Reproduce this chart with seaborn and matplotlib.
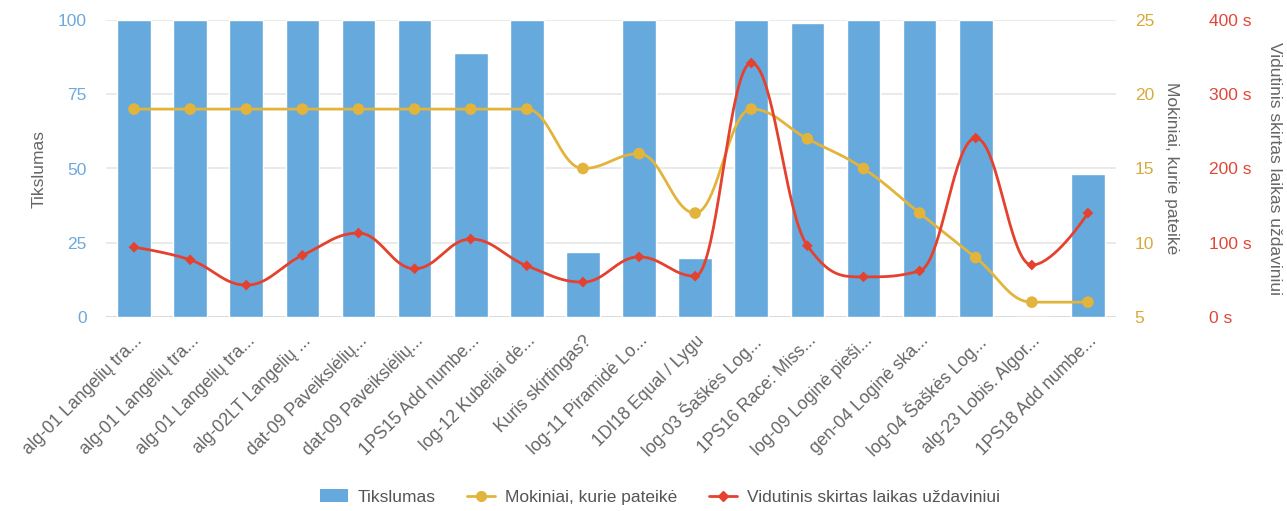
import numpy as np
import matplotlib
matplotlib.use("Agg")
import matplotlib.pyplot as plt
from matplotlib.lines import Line2D
from matplotlib.patches import Patch
import seaborn as sns
import pandas as pd

# ---- data ----
tasks = [
    "alg-01 Langelių tra...", "alg-01 Langelių tra...", "alg-01 Langelių tra...",
    "alg-02LT Langelių ...", "dat-09 Paveikslėlių...", "dat-09 Paveikslėlių...",
    "1PS15 Add numbe...", "log-12 Kubeliai dė...", "Kuris skirtingas?",
    "log-11 Piramidė Lo...", "1DI18 Equal / Lygu", "log-03 Šaškės Log...",
    "1PS16 Race: Miss...", "log-09 Loginė pieši...", "gen-04 Loginė ska...",
    "log-04 Šaškės Log...", "alg-23 Lobis. Algor...", "1PS18 Add numbe...",
]
accuracy = [100, 100, 100, 100, 100, 100, 89, 100, 22, 100, 20, 100, 99, 100, 100, 100, 0, 48]
students = [19, 19, 19, 19, 19, 19, 19, 19, 15, 16, 12, 19, 17, 15, 12, 9, 6, 6]
avg_time = [94, 77, 43, 83, 113, 65, 105, 69, 47, 81, 55, 342, 96, 54, 62, 241, 70, 140]

acc_ticks = [0, 25, 50, 75, 100]
stu_ticks = [5, 10, 15, 20, 25]
time_ticks = [0, 100, 200, 300, 400]

BLUE = "#66a9dd"
YELLOW = "#e3b43c"
RED = "#e5412f"
GREY = "#666666"


def spline_path(y, smoothing=1.5, per_seg=40):
    """Smooth curve through (i, y[i]) using cubic Bezier control points."""
    x = np.arange(len(y), dtype=float)
    y = np.asarray(y, dtype=float)
    n = len(y)
    lcx, lcy = x.copy(), y.copy()
    rcx, rcy = x.copy(), y.copy()
    denom = smoothing + 1
    for i in range(1, n - 1):
        px, py = x[i], y[i]
        lx, ly = x[i - 1], y[i - 1]
        nx, ny = x[i + 1], y[i + 1]
        lX = (smoothing * px + lx) / denom
        lY = (smoothing * py + ly) / denom
        rX = (smoothing * px + nx) / denom
        rY = (smoothing * py + ny) / denom
        corr = 0.0
        if rX != lX:
            corr = (rY - lY) * (rX - px) / (rX - lX) + py - rY
        lY += corr
        rY += corr
        if lY > ly and lY > py:
            lY = max(ly, py)
            rY = 2 * py - lY
        elif lY < ly and lY < py:
            lY = min(ly, py)
            rY = 2 * py - lY
        if rY > ny and rY > py:
            rY = max(ny, py)
            lY = 2 * py - rY
        elif rY < ny and rY < py:
            rY = min(ny, py)
            lY = 2 * py - rY
        lcx[i], lcy[i], rcx[i], rcy[i] = lX, lY, rX, rY
    t = np.linspace(0, 1, per_seg)[:, None]
    xs, ys = [], []
    for i in range(1, n):
        P0 = np.array([x[i - 1], y[i - 1]])
        P1 = np.array([rcx[i - 1], rcy[i - 1]])
        P2 = np.array([lcx[i], lcy[i]])
        P3 = np.array([x[i], y[i]])
        B = ((1 - t) ** 3) * P0 + 3 * ((1 - t) ** 2) * t * P1 + 3 * (1 - t) * t ** 2 * P2 + t ** 3 * P3
        xs.append(B[:, 0])
        ys.append(B[:, 1])
    return np.concatenate(xs), np.concatenate(ys)


sns.set_theme(style="white")
plt.rcParams["font.family"] = ["Liberation Sans", "DejaVu Sans"]

fig = plt.figure(figsize=(12.87, 5.11), dpi=100)
ax = fig.add_axes([106 / 1287, 1 - 317 / 511, (1116 - 106) / 1287, (317 - 20) / 511])

df = pd.DataFrame({"task": range(len(tasks)), "accuracy": accuracy,
                   "students": students, "avg_time": avg_time})

sns.barplot(data=df, x="task", y="accuracy", color=BLUE, saturation=1,
            width=0.6, ax=ax, zorder=2)
ax.set_ylim(0, 100)
ax.set_xlim(-0.5, len(tasks) - 0.5)
ax.set_yticks(acc_ticks)
ax.set_yticklabels([str(v) for v in acc_ticks], color="#6fa8dc", fontsize=12.5)
ax.set_xticks(range(len(tasks)))
ax.set_xticklabels(tasks, rotation=45, ha="right", rotation_mode="anchor",
                   color=GREY, fontsize=12.7)
ax.tick_params(axis="x", length=0, pad=11)
ax.tick_params(axis="y", length=0, pad=14)
ax.set_xlabel("")
ax.set_ylabel("Tikslumas", color=GREY, fontsize=12.5, labelpad=8)
for v in acc_ticks:
    ax.axhline(v, color="#e6e6e6", lw=1.2, zorder=0)
for s in ax.spines.values():
    s.set_visible(False)
ax.axhline(0, color="#d8d8d8", lw=1.2, zorder=1)

# students axis
ax2 = ax.twinx()
ax2.set_ylim(5, 25)
ax2.set_yticks(stu_ticks)
ax2.set_yticklabels([str(v) for v in stu_ticks], color="#d6ab3c", fontsize=12.5)
ax2.tick_params(axis="y", length=0, pad=13.5)
ax2.set_ylabel("Mokiniai, kurie pateikė", color=GREY, fontsize=12.5,
               rotation=270, labelpad=18)
for s in ax2.spines.values():
    s.set_visible(False)
sx, sy = spline_path(students)
ax2.plot(sx, sy, color=YELLOW, lw=2, zorder=3)
sns.scatterplot(x=np.arange(len(students)), y=students, ax=ax2, color=YELLOW,
                s=70, edgecolor="none", zorder=4, legend=False)

# time axis
ax3 = ax.twinx()
ax3.set_ylim(0, 400)
ax3.set_yticks(time_ticks)
ax3.set_yticklabels([f"{v} s" for v in time_ticks], color="#e0473a", fontsize=12.5)
ax3.tick_params(axis="y", length=0, pad=67)
ax3.set_ylabel("Vidutinis skirtas laikas uždaviniui", color=GREY, fontsize=12.5,
               rotation=270, labelpad=22)
for s in ax3.spines.values():
    s.set_visible(False)
tx, ty = spline_path(avg_time)
ax3.plot(tx, ty, color=RED, lw=2, zorder=3)
sns.scatterplot(x=np.arange(len(avg_time)), y=avg_time, ax=ax3, color=RED,
                marker="D", s=30, edgecolor="none", zorder=4, legend=False)

handles = [
    Patch(facecolor=BLUE, edgecolor="none"),
    Line2D([0], [0], color=YELLOW, lw=2, marker="o", markersize=7),
    Line2D([0], [0], color=RED, lw=2, marker="D", markersize=5),
]
labels = ["Tikslumas", "Mokiniai, kurie pateikė", "Vidutinis skirtas laikas uždaviniui"]
leg = fig.legend(handles, labels, loc="center", bbox_to_anchor=(660 / 1287, 1 - 497 / 511),
                 ncol=3, frameon=False, fontsize=12.5, handlelength=1.6,
                 columnspacing=1.8, handletextpad=0.6)
for t in leg.get_texts():
    t.set_color("#555555")

fig.savefig("out.png", dpi=100)
